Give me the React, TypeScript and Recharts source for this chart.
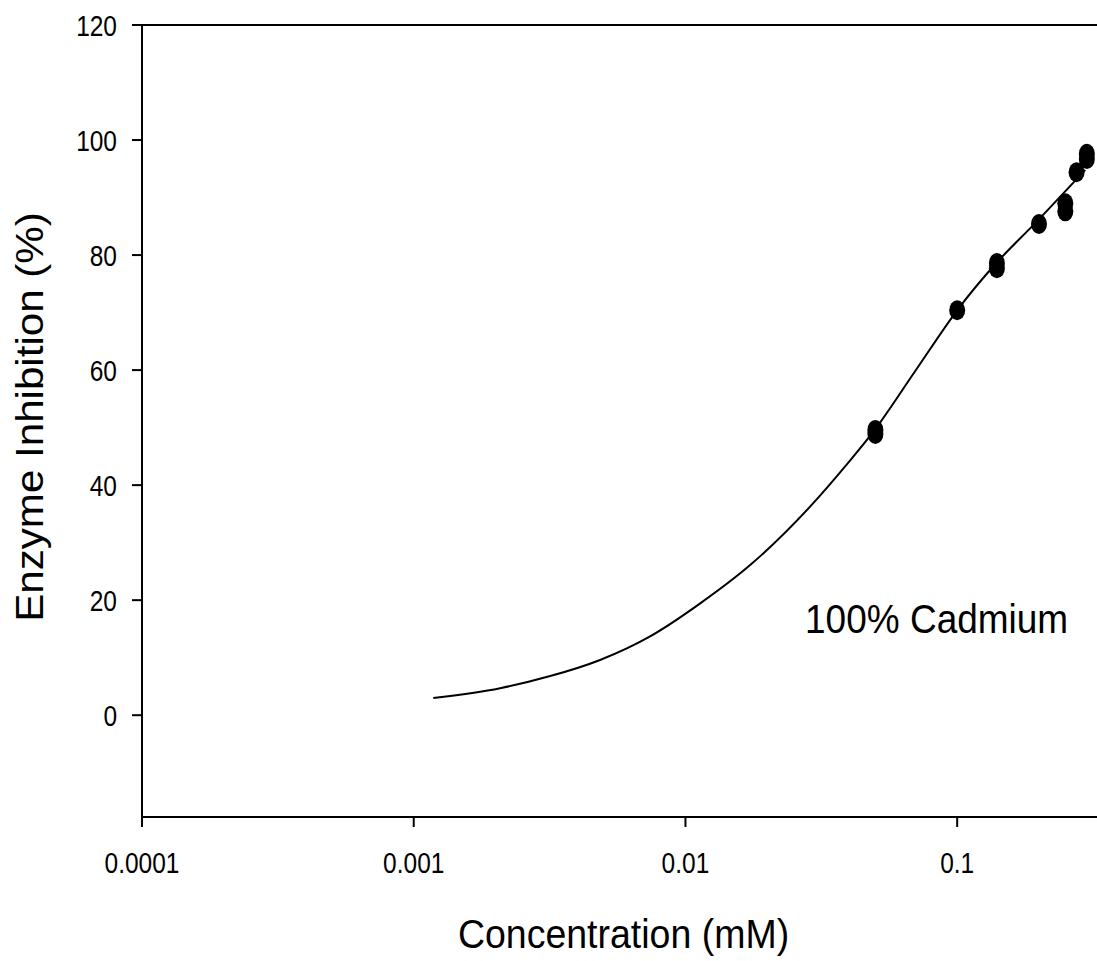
import React from "react";
import {
  ComposedChart,
  Line,
  Scatter,
  XAxis,
  YAxis,
  ReferenceLine,
  ReferenceDot,
} from "recharts";

const FONT = "'Liberation Sans', Arial, sans-serif";

// fitted curve (concentration mM, % inhibition)
const curveX = [0.00118, 0.00208, 0.00318, 0.00485, 0.00741, 0.0113, 0.0173, 0.0288, 0.0394, 0.049, 0.07, 0.1, 0.138, 0.197, 0.296];
const curveY = [3.0, 4.7, 6.8, 9.6, 13.7, 19.4, 26.1, 36.3, 43.7, 49.2, 59.8, 70.4, 78.4, 85.9, 94.8];

// measured points
const pointX = [0.05, 0.05, 0.1, 0.14, 0.14, 0.2, 0.25, 0.25, 0.275, 0.3, 0.3];
const pointY = [49.6, 48.9, 70.4, 78.6, 77.7, 85.4, 89.0, 87.6, 94.4, 97.6, 96.7];

const xTicks = [0.0001, 0.001, 0.01, 0.1];
const xTickLabels = ["0.0001", "0.001", "0.01", "0.1"];
const yTicks = [0, 20, 40, 60, 80, 100, 120];

const curve = curveX.map((x, i) => ({ x, y: curveY[i] }));
const points = pointX.map((x, i) => ({ x, y: pointY[i] }));

const XTick = (p: any) => {
  const i = xTicks.indexOf(p.payload.value);
  return (
    <text
      transform={`translate(${p.x},${p.y + 46}) scale(1,1.2)`}
      textAnchor="middle"
      fontFamily={FONT}
      fontSize={24.5}
      fill="#000"
    >
      {i >= 0 ? xTickLabels[i] : p.payload.value}
    </text>
  );
};

const YTick = (p: any) => (
  <text
    transform={`translate(${p.x},${p.y + 11}) scale(1,1.2)`}
    textAnchor="end"
    fontFamily={FONT}
    fontSize={24.5}
    fill="#000"
  >
    {p.payload.value}
  </text>
);

const Dot = (p: any) => <ellipse cx={p.cx} cy={p.cy} rx={8} ry={10} fill="#000" />;

export default function App() {
  return (
    <div style={{ position: "absolute", left: 0, top: 0, background: "#fff" }}>
      <ComposedChart width={1097} height={961} margin={{ top: 25, right: 0, left: 0, bottom: 0 }}>
        <XAxis
          dataKey="x"
          type="number"
          scale="log"
          domain={[0.0001, 0.327]}
          allowDataOverflow
          ticks={xTicks}
          height={144}
          tickSize={10}
          tickMargin={0}
          tick={<XTick />}
          axisLine={{ stroke: "#000", strokeWidth: 2 }}
          tickLine={{ stroke: "#000", strokeWidth: 2 }}
          label={{
            content: () => (
              <text
                transform="translate(623.5,948) scale(1,1.1)"
                textAnchor="middle"
                fontFamily={FONT}
                fontSize={37.5}
                fill="#000"
              >
                Concentration (mM)
              </text>
            ),
          }}
        />
        <YAxis
          dataKey="y"
          type="number"
          domain={[-17.7, 120]}
          allowDataOverflow
          ticks={yTicks}
          width={142}
          tickSize={10}
          tickMargin={15}
          tick={<YTick />}
          axisLine={{ stroke: "#000", strokeWidth: 2 }}
          tickLine={{ stroke: "#000", strokeWidth: 2 }}
          label={{
            content: () => (
              <text
                transform="translate(43,417) rotate(-90) scale(1.08,1)"
                textAnchor="middle"
                fontFamily={FONT}
                fontSize={39}
                fill="#000"
              >
                Enzyme Inhibition (%)
              </text>
            ),
          }}
        />
        <ReferenceLine y={120} stroke="#000" strokeWidth={2} />
        <Line
          data={curve}
          dataKey="y"
          type="monotone"
          stroke="#000"
          strokeWidth={2}
          dot={false}
          activeDot={false}
          isAnimationActive={false}
        />
        <Scatter data={points} dataKey="y" fill="#000" shape={<Dot />} isAnimationActive={false} />
        <ReferenceDot
          x={0.084}
          y={14.3}
          r={0}
          shape={(p: any) => (
            <text
              transform={`translate(${p.cx},${p.cy}) scale(1,1.12)`}
              textAnchor="middle"
              fontFamily={FONT}
              fontSize={37}
              fill="#000"
            >
              100% Cadmium
            </text>
          )}
        />
      </ComposedChart>
    </div>
  );
}
